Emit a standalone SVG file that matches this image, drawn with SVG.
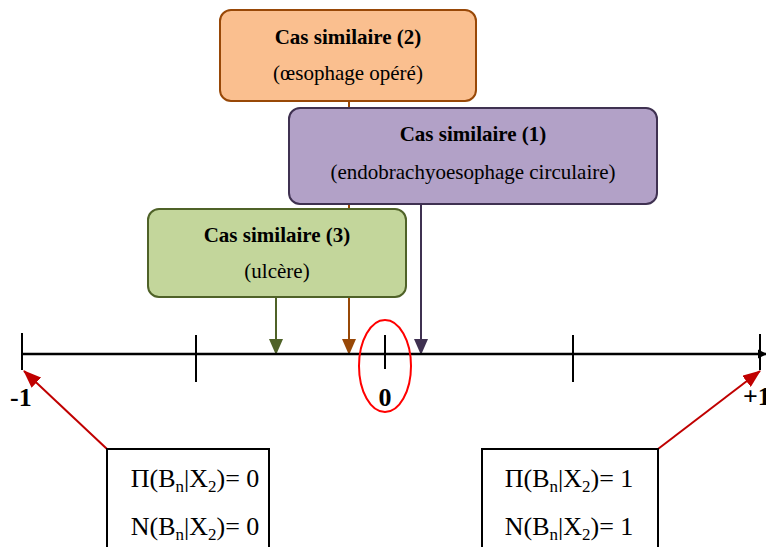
<svg xmlns="http://www.w3.org/2000/svg" width="766" height="547" viewBox="0 0 766 547">
<defs>
<style>
text{font-family:"Liberation Serif","Times New Roman",serif;fill:#000}
.t{font-size:21px;font-weight:bold;text-anchor:middle}
.s{font-size:21px;text-anchor:middle}
.f{font-size:26px;text-anchor:middle}
.sub{font-size:17px}
.ax{font-size:26px;font-weight:bold}
.tick{stroke:#000;stroke-width:2}
</style>
<marker id="ag" viewBox="0 0 16 14" refX="15" refY="7" markerWidth="16" markerHeight="14" orient="auto" markerUnits="userSpaceOnUse"><path d="M0,0L16,7L0,14z" fill="#4F6228"/></marker>
<marker id="ao" viewBox="0 0 16 14" refX="15" refY="7" markerWidth="16" markerHeight="14" orient="auto" markerUnits="userSpaceOnUse"><path d="M0,0L16,7L0,14z" fill="#984807"/></marker>
<marker id="ap" viewBox="0 0 16 14" refX="15" refY="7" markerWidth="16" markerHeight="14" orient="auto" markerUnits="userSpaceOnUse"><path d="M0,0L16,7L0,14z" fill="#3F3151"/></marker>
<marker id="ar" viewBox="0 0 18 14" refX="17" refY="7" markerWidth="18" markerHeight="14" orient="auto" markerUnits="userSpaceOnUse"><path d="M0,0L18,7L0,14z" fill="#C00000"/></marker>
<marker id="ak" viewBox="0 0 10 10" refX="9" refY="5" markerWidth="9" markerHeight="10" orient="auto" markerUnits="userSpaceOnUse"><path d="M0,0L10,5L0,10z" fill="#000"/></marker>
</defs>
<g id="connectors">
<line x1="349" y1="101" x2="349" y2="354" stroke="#984807" stroke-width="2" marker-end="url(#ao)"/>
<line x1="276" y1="297" x2="276" y2="354" stroke="#4F6228" stroke-width="2" marker-end="url(#ag)"/>
<line x1="421" y1="204" x2="421" y2="354" stroke="#3F3151" stroke-width="2" marker-end="url(#ap)"/>
<line x1="107" y1="449" x2="24" y2="371" stroke="#C00000" stroke-width="2" marker-end="url(#ar)"/>
<line x1="658" y1="449" x2="760" y2="371" stroke="#C00000" stroke-width="2" marker-end="url(#ar)"/>
</g>
<g id="case2">
<rect x="220" y="10" width="256" height="91" rx="11" fill="#FABF8F" stroke="#984807" stroke-width="2"/>
<text class="t" x="348" y="44">Cas similaire (2)</text>
<text class="s" x="348" y="80">(œsophage opéré)</text>
</g>
<g id="case1">
<rect x="289" y="108" width="368" height="96" rx="11" fill="#B2A1C7" stroke="#3F3151" stroke-width="2"/>
<text class="t" x="473" y="141">Cas similaire (1)</text>
<text class="s" x="473" y="179">(endobrachyoesophage circulaire)</text>
</g>
<g id="case3">
<rect x="148" y="209" width="258" height="88" rx="11" fill="#C3D69B" stroke="#4F6228" stroke-width="2"/>
<text class="t" x="277" y="242">Cas similaire (3)</text>
<text class="s" x="277" y="278">(ulcère)</text>
</g>
<g id="axis">
<line x1="22" y1="354" x2="766" y2="354" stroke="#000" stroke-width="2.5" marker-end="url(#ak)"/>
<line class="tick" x1="22" y1="333" x2="22" y2="370"/>
<line class="tick" x1="196" y1="335" x2="196" y2="382"/>
<line class="tick" x1="385" y1="335" x2="385" y2="369"/>
<line class="tick" x1="573" y1="335" x2="573" y2="382"/>
<line class="tick" x1="760" y1="334" x2="760" y2="370"/>
<text class="ax" x="10" y="406">-1</text>
<text class="ax" x="385" y="406" text-anchor="middle">0</text>
<text class="ax" x="743" y="405">+1</text>
<ellipse cx="385" cy="366" rx="26" ry="46" fill="none" stroke="#FF0000" stroke-width="2"/>
</g>
<g id="left-box">
<rect x="107" y="449" width="162" height="110" fill="#fff" stroke="#000" stroke-width="2"/>
<text class="f" x="195" y="487">Π(B<tspan class="sub" dy="5">n</tspan><tspan dy="-5">|X</tspan><tspan class="sub" dy="5">2</tspan><tspan dy="-5">)= 0</tspan></text>
<text class="f" x="195" y="535">N(B<tspan class="sub" dy="5">n</tspan><tspan dy="-5">|X</tspan><tspan class="sub" dy="5">2</tspan><tspan dy="-5">)= 0</tspan></text>
</g>
<g id="right-box">
<rect x="482" y="449" width="176" height="110" fill="#fff" stroke="#000" stroke-width="2"/>
<text class="f" x="569" y="487">Π(B<tspan class="sub" dy="5">n</tspan><tspan dy="-5">|X</tspan><tspan class="sub" dy="5">2</tspan><tspan dy="-5">)= 1</tspan></text>
<text class="f" x="569" y="535">N(B<tspan class="sub" dy="5">n</tspan><tspan dy="-5">|X</tspan><tspan class="sub" dy="5">2</tspan><tspan dy="-5">)= 1</tspan></text>
</g>
</svg>
